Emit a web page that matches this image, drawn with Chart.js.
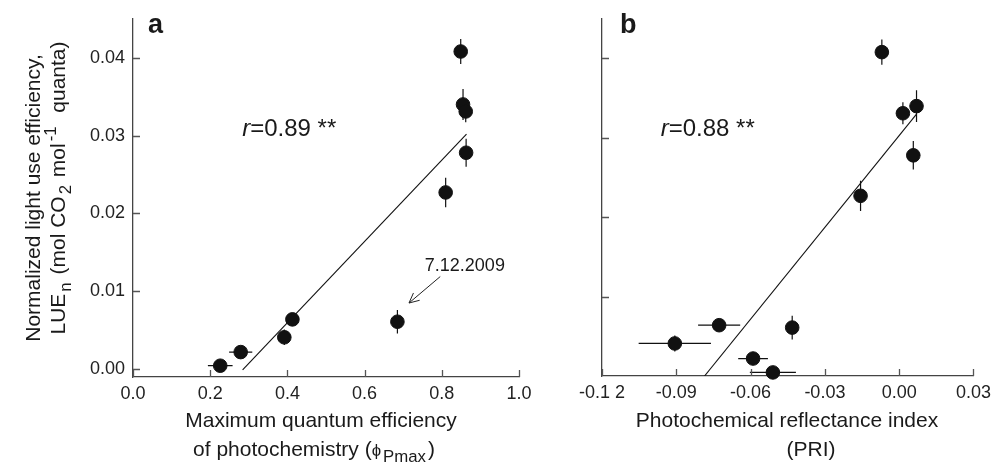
<!DOCTYPE html>
<html>
<head>
<meta charset="utf-8">
<script src="https://cdn.jsdelivr.net/npm/chart.js@4.4.1/dist/chart.umd.min.js"></script>
<style>
  html, body { margin: 0; background: #fff; }
  #wrap { position: relative; width: 997px; height: 463px; overflow: hidden; }
  canvas { position: absolute; top: 0; }
  #chartA { left: 0; }
  #chartB { left: 540px; }
</style>
</head>
<body>
<div id="wrap">
  <canvas id="chartA" width="540" height="463"></canvas>
  <canvas id="chartB" width="457" height="463"></canvas>
</div>
<script>
// --- data (same 10 sampling days in both panels) ---
const lueValues = [0.00045, 0.0022, 0.0041, 0.0064, 0.0061, 0.0227, 0.0408, 0.0340, 0.0331, 0.0278];
const lueErr    = [0, 0, 0.0010, 0, 0.0015, 0.0019, 0.0016, 0.0020, 0.0014, 0.0018];
const fvValues  = [0.226, 0.279, 0.392, 0.413, 0.685, 0.810, 0.849, 0.855, 0.862, 0.863];
const fvErr     = [0.032, 0.030, 0, 0, 0, 0, 0, 0, 0, 0];
const priValues = [-0.051, -0.059, -0.0906, -0.0727, -0.0432, -0.0156, -0.007, 0.007, 0.0015, 0.0057];
const priErr    = [0.0093, 0.0060, 0.0146, 0.0085, 0, 0, 0, 0, 0, 0];

// regression lines (end points as drawn)
const fitAx = [0.284, 0.864];
const fitAy = [-0.0001, 0.0302];
const fitBx = [-0.0786, 0.007];
const fitBy = [0, 0.033];

// ticks
const yTicks = [0, 0.01, 0.02, 0.03, 0.04];
const xTicksA = [0, 0.2, 0.4, 0.6, 0.8, 1.0];
const xTicksB = [-0.12, -0.09, -0.06, -0.03, 0, 0.03];
const xTickLabelsB = ['-0.1 2', '-0.09', '-0.06', '-0.03', '0.00', '0.03'];

const INK = '#111';
const AXIS = '#444';
const FONT = '"Liberation Sans", Arial, Helvetica, sans-serif';

Chart.defaults.font.family = FONT;
Chart.defaults.color = '#222';

function fontFor(kind, size) {
  if (kind === 'sub' || kind === 'sup') return `${size * 0.8}px ${FONT}`;
  if (kind === 'i') return `italic ${size}px ${FONT}`;
  if (kind === 'b') return `bold ${size}px ${FONT}`;
  if (kind === 'sym') return `${size * 0.8}px ${FONT}`;
  return `${size}px ${FONT}`;
}

// draws a line of text with sub/superscripts; parts = [[text, kind], ...]
function drawRich(ctx, parts, x, y, size, align) {
  const gap = 2;
  const widths = parts.map(([t, k]) => {
    ctx.font = fontFor(k, size);
    return ctx.measureText(t).width + (k === 'sub' || k === 'sup' ? gap * 2 : 0);
  });
  const total = widths.reduce((a, b) => a + b, 0);
  let cx = align === 'center' ? x - total / 2 : x;
  ctx.textAlign = 'left';
  ctx.textBaseline = 'alphabetic';
  parts.forEach(([t, k], i) => {
    ctx.font = fontFor(k, size);
    let dy = 0, dx = 0;
    if (k === 'sub') { dy = size * 0.28; dx = gap; }
    if (k === 'sup') { dy = -size * 0.42; dx = gap; }
    ctx.fillText(t, cx + dx, y + dy);
    cx += widths[i];
  });
}

function errorBars(xs, xErr, ys, yErr) {
  return {
    id: 'errorBars',
    beforeDatasetsDraw(chart) {
      const { ctx, scales: { x, y } } = chart;
      ctx.save();
      ctx.strokeStyle = INK;
      ctx.lineWidth = 1.2;
      ctx.beginPath();
      xs.forEach((xv, i) => {
        const px = x.getPixelForValue(xv);
        const py = y.getPixelForValue(ys[i]);
        if (xErr[i]) {
          ctx.moveTo(x.getPixelForValue(xv - xErr[i]), py);
          ctx.lineTo(x.getPixelForValue(xv + xErr[i]), py);
        }
        if (yErr[i]) {
          ctx.moveTo(px, y.getPixelForValue(ys[i] - yErr[i]));
          ctx.lineTo(px, y.getPixelForValue(ys[i] + yErr[i]));
        }
      });
      ctx.stroke();
      ctx.restore();
    }
  };
}

// tick marks point into the plot
const inwardTicks = {
  id: 'inwardTicks',
  afterDraw(chart) {
    const { ctx, chartArea: a, scales: { x, y } } = chart;
    ctx.save();
    ctx.strokeStyle = '#555';
    ctx.lineWidth = 1.3;
    ctx.beginPath();
    x.ticks.forEach(t => {
      const p = Math.round(x.getPixelForValue(t.value)) + 0.5;
      ctx.moveTo(p, a.bottom);
      ctx.lineTo(p, a.bottom - 7);
    });
    y.ticks.forEach(t => {
      const p = Math.round(y.getPixelForValue(t.value)) + 0.5;
      ctx.moveTo(a.left, p);
      ctx.lineTo(a.left + 7, p);
    });
    ctx.stroke();
    ctx.restore();
  }
};

function annotations(cfg) {
  return {
    id: 'annotations',
    afterDraw(chart) {
      const { ctx, chartArea: a, scales: { x, y } } = chart;
      ctx.save();
      ctx.fillStyle = '#1a1a1a';
      // panel letter
      drawRich(ctx, [[cfg.letter, 'b']], a.left + cfg.letterDx, 33, 27, 'left');
      // correlation
      drawRich(ctx, [['r', 'i'], ['=0.' + cfg.r + ' **', '']],
        x.getPixelForValue(cfg.rAt[0]), y.getPixelForValue(cfg.rAt[1]), 24, 'left');
      // axis titles
      cfg.xTitle.forEach(l => drawRich(ctx, l.parts, l.x, l.y, 21, l.align));
      (cfg.yTitle || []).forEach(l => {
        ctx.save();
        ctx.translate(l.x, l.y);
        ctx.rotate(-Math.PI / 2);
        drawRich(ctx, l.parts, 0, 0, 21, 'center');
        ctx.restore();
      });
      // dated outlier
      if (cfg.note) {
        const n = cfg.note;
        drawRich(ctx, [[n.text, '']], x.getPixelForValue(n.at[0]), y.getPixelForValue(n.at[1]), 18, 'left');
        const x1 = x.getPixelForValue(n.from[0]), y1 = y.getPixelForValue(n.from[1]);
        const x2 = x.getPixelForValue(n.to[0]), y2 = y.getPixelForValue(n.to[1]);
        const ang = Math.atan2(y2 - y1, x2 - x1);
        ctx.strokeStyle = '#222';
        ctx.lineWidth = 1;
        ctx.beginPath();
        ctx.moveTo(x1, y1);
        ctx.lineTo(x2, y2);
        [0.45, -0.45].forEach(d => {
          ctx.moveTo(x2, y2);
          ctx.lineTo(x2 - 11 * Math.cos(ang + d), y2 - 11 * Math.sin(ang + d));
        });
        ctx.stroke();
      }
      ctx.restore();
    }
  };
}

function toPoints(xs, ys) {
  return xs.map((v, i) => ({ x: v, y: ys[i] }));
}

function makeChart(canvas, o) {
  return new Chart(canvas, {
    type: 'scatter',
    data: {
      datasets: [
        {
          data: toPoints(o.xs, lueValues),
          backgroundColor: INK,
          borderColor: INK,
          pointRadius: 6.8,
          pointHoverRadius: 6.8,
          clip: false,
        },
        {
          type: 'line',
          data: toPoints(o.fitX, o.fitY),
          borderColor: INK,
          borderWidth: 1.1,
          pointRadius: 0,
          fill: false,
          showLine: true,
        },
      ],
    },
    options: {
      responsive: false,
      animation: false,
      devicePixelRatio: 1,
      layout: { padding: { top: 9, right: o.padRight, left: 0, bottom: 0 } },
      plugins: { legend: { display: false }, tooltip: { enabled: false } },
      scales: {
        x: {
          type: 'linear',
          min: o.xMin,
          max: o.xMax,
          grid: { display: false, drawTicks: false },
          border: { display: true, color: AXIS, width: 1.3 },
          afterFit: s => { s.height = o.xHeight; },
          afterBuildTicks: s => { s.ticks = o.xTicks.map(v => ({ value: v })); },
          ticks: { autoSkip: false, maxRotation: 0, padding: 6, font: { size: 18 }, callback: o.xLabel },
        },
        y: {
          type: 'linear',
          min: o.yMin,
          max: 0.045,
          grid: { display: false, drawTicks: false },
          border: { display: true, color: AXIS, width: 1.3 },
          afterFit: s => { s.width = o.yWidth; },
          afterBuildTicks: s => { s.ticks = o.yTicks.map(v => ({ value: v })); },
          ticks: { autoSkip: false, padding: 8, font: { size: 18 }, callback: o.yLabel },
        },
      },
    },
    plugins: [errorBars(o.xs, o.xErr, lueValues, lueErr), inwardTicks, annotations(o.notes)],
  });
}

makeChart(document.getElementById('chartA'), {
  xs: fvValues, xErr: fvErr, fitX: fitAx, fitY: fitAy,
  xMin: 0, xMax: 1, yMin: -0.001,
  xTicks: xTicksA, yTicks: yTicks,
  xLabel: v => v.toFixed(1),
  yLabel: v => v.toFixed(2),
  padRight: 21, xHeight: 86, yWidth: 133,
  notes: {
    letter: 'a', letterDx: 15, r: '89', rAt: [0.283, 0.0299],
    xTitle: [
      { parts: [['Maximum quantum efficiency', '']], x: 321, y: 427, align: 'center' },
      { parts: [['of photochemistry (', ''], ['\u03d5', 'sym'], ['Pmax', 'sub'], [')', '']], x: 314, y: 456, align: 'center' },
    ],
    yTitle: [
      { parts: [['Normalized light use efficiency,', '']], x: 40, y: 198 },
      { parts: [['LUE', ''], ['n', 'sub'], [' (mol CO', ''], ['2', 'sub'], [' mol', ''], ['-1', 'sup'], ['  quanta)', '']], x: 65, y: 188 },
    ],
    note: { text: '7.12.2009', at: [0.756, 0.0126], from: [0.796, 0.0119], to: [0.715, 0.0085] },
  },
});

makeChart(document.getElementById('chartB'), {
  xs: priValues, xErr: priErr, fitX: fitBx, fitY: fitBy,
  xMin: -0.12, xMax: 0.03, yMin: 0,
  xTicks: xTicksB, yTicks: yTicks.slice(1),
  xLabel: (v, i) => xTickLabelsB[i],
  yLabel: () => '',
  padRight: 21, xHeight: 87, yWidth: 62,
  notes: {
    letter: 'b', letterDx: 18, r: '88', rAt: [-0.0963, 0.0302],
    xTitle: [
      { parts: [['Photochemical reflectance index', '']], x: 247, y: 427, align: 'center' },
      { parts: [['(PRI)', '']], x: 271, y: 456, align: 'center' },
    ],
  },
});
</script>
</body>
</html>
